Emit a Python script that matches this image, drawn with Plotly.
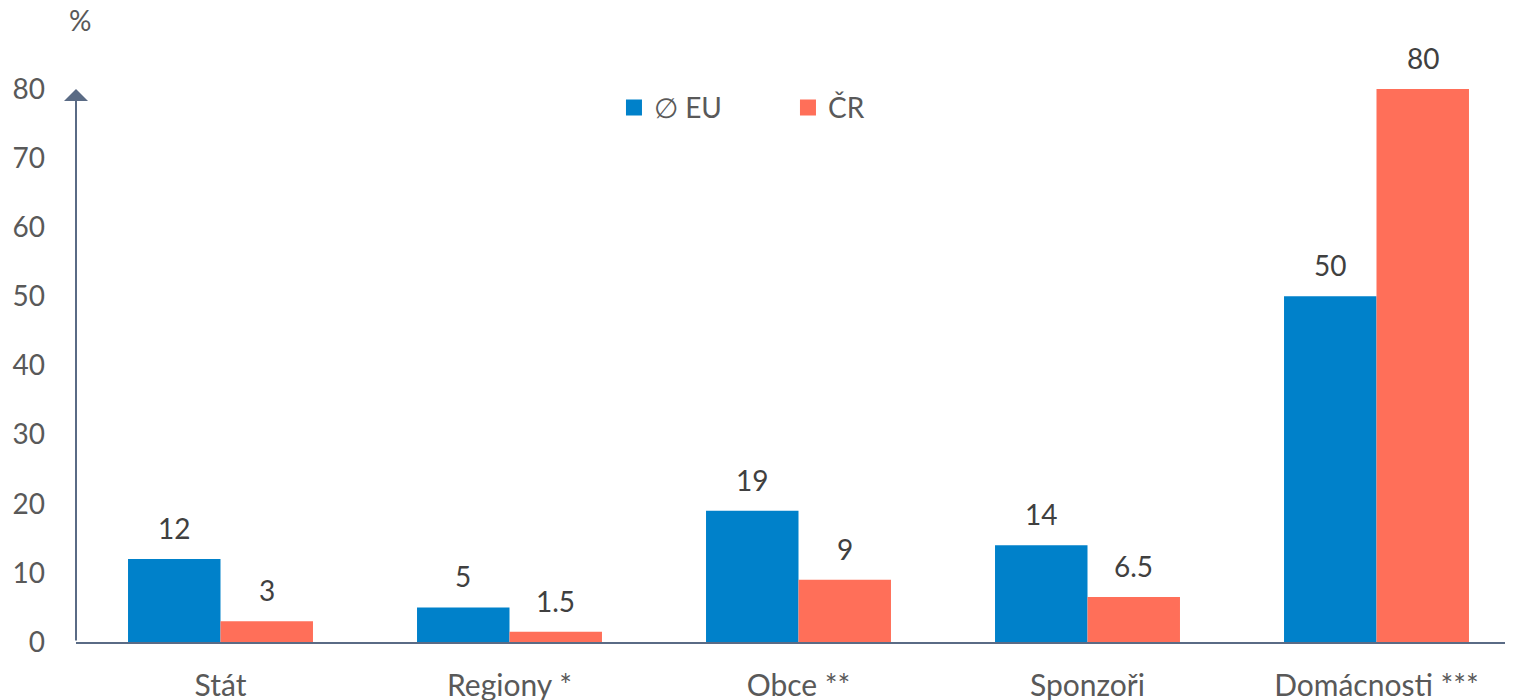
import plotly.graph_objects as go

categories = ["Stát", "Regiony *", "Obce **", "Sponzoři", "Domácnosti ***"]
eu_values = [12, 5, 19, 14, 50]
cr_values = [3, 1.5, 9, 6.5, 80]
eu_labels = ["12", "5", "19", "14", "50"]
cr_labels = ["3", "1.5", "9", "6.5", "80"]
y_ticks = [0, 10, 20, 30, 40, 50, 60, 70, 80]

BLUE = "#0081CA"
ORANGE = "#FF6F59"
AXIS = "#5A6B85"
FONT = "Lato, 'Open Sans', sans-serif"
FS = 28

idx = list(range(len(categories)))
fig = go.Figure()
fig.add_trace(go.Bar(x=idx, y=eu_values, name="∅ EU", marker_color=BLUE,
                     marker_line_width=0, showlegend=False))
fig.add_trace(go.Bar(x=idx, y=cr_values, name="ČR", marker_color=ORANGE,
                     marker_line_width=0, showlegend=False))
# legend entries with larger square symbols
fig.add_trace(go.Scatter(x=[None], y=[None], mode="markers", name="∅ EU",
                         marker=dict(symbol="square", size=18, color=BLUE)))
fig.add_trace(go.Scatter(x=[None], y=[None], mode="markers", name="ČR",
                         marker=dict(symbol="square", size=18, color=ORANGE)))

bargap = 0.36
half = (1 - bargap) / 4
lab_font = dict(size=FS, color="#404040", family=FONT)
annotations = []
for i in idx:
    annotations.append(dict(x=i - half, y=eu_values[i], xref="x", yref="y",
                            text=eu_labels[i], showarrow=False, yanchor="bottom",
                            yshift=12, font=lab_font))
    annotations.append(dict(x=i + half, y=cr_values[i], xref="x", yref="y",
                            text=cr_labels[i], showarrow=False, yanchor="bottom",
                            yshift=12, font=lab_font))
# y-axis arrow
annotations.append(dict(x=-0.5, y=max(y_ticks), ax=-0.5, ay=0, xref="x", yref="y",
                        axref="x", ayref="y", text="", showarrow=True,
                        arrowhead=1, arrowsize=2, arrowwidth=2, arrowcolor=AXIS,
                        standoff=0, startstandoff=0))
annotations.append(dict(xref="x domain", yref="paper", x=0, y=1.0596,
                        xanchor="center", yanchor="middle", xshift=4,
                        height=22, valign="middle",
                        text="%", showarrow=False,
                        font=dict(size=FS, color="#595959", family=FONT)))

fig.update_layout(
    width=1513, height=700,
    margin=dict(l=68, r=0, t=47, b=66),
    plot_bgcolor="white", paper_bgcolor="white",
    barmode="group", bargap=bargap, bargroupgap=0,
    font=dict(family=FONT, size=FS, color="#595959"),
    showlegend=True,
    legend=dict(orientation="h", x=0.3723, y=0.91, xanchor="left", yanchor="middle",
                font=dict(size=FS, color="#595959", family=FONT),
                entrywidth=129, entrywidthmode="pixels",
                bgcolor="rgba(0,0,0,0)"),
    annotations=annotations,
)
fig.update_xaxes(range=[-0.5, 4.5], tickmode="array", tickvals=idx, ticktext=categories,
                 showline=True, linecolor=AXIS, linewidth=2, showgrid=False, zeroline=False,
                 ticks="", ticklabelstandoff=16, automargin=False,
                 tickfont=dict(size=30, color="#595959"))
fig.update_yaxes(range=[0, 84.9], tickmode="array", tickvals=y_ticks,
                 showline=False, showgrid=False, zeroline=False, ticks="",
                 ticklabelstandoff=30, automargin=False,
                 tickfont=dict(size=FS, color="#595959"))

fig.write_html("out.html")
